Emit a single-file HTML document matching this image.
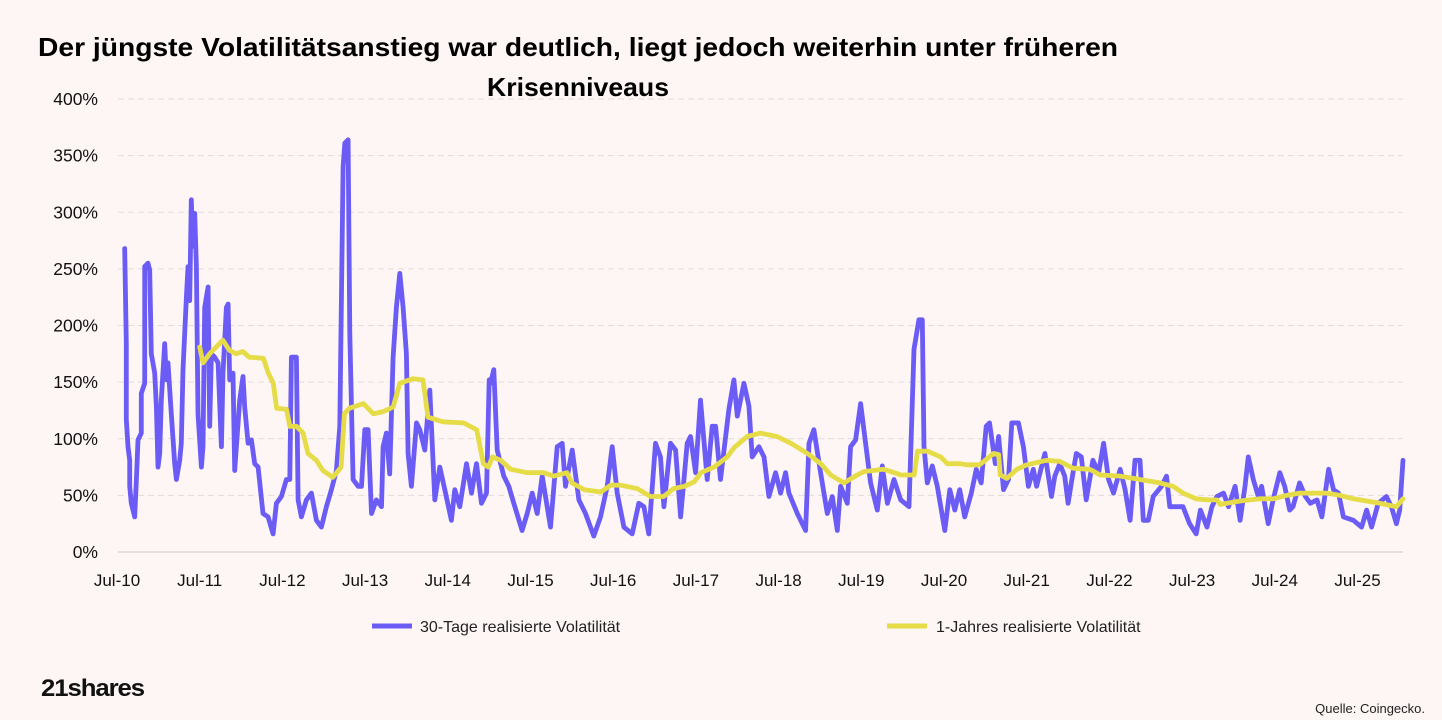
<!DOCTYPE html>
<html><head><meta charset="utf-8"><style>
html,body{margin:0;padding:0;background:#fdf6f4;}
svg{display:block;font-family:"Liberation Sans",sans-serif;}
</style></head><body>
<svg id="chart" width="1442" height="720" viewBox="0 0 1442 720">
<rect width="1442" height="720" fill="#fdf6f4"/>
<text x="578" y="56" text-anchor="middle" font-size="26" font-weight="bold" textLength="1080" lengthAdjust="spacingAndGlyphs" fill="#000">Der jüngste Volatilitätsanstieg war deutlich, liegt jedoch weiterhin unter früheren</text>
<text x="578" y="96" text-anchor="middle" font-size="26" font-weight="bold" textLength="182" lengthAdjust="spacingAndGlyphs" fill="#000">Krisenniveaus</text>
<g id="grid"></g>
<g id="yaxis"></g>
<g id="xaxis"></g>
<g id="series"></g>
<g>
<g>
<line x1="372" y1="626" x2="412" y2="626" stroke="#6b5cf5" stroke-width="5"/>
<text x="420" y="632" font-size="16" fill="#222">30-Tage realisierte Volatilität</text>
</g>
<g>
<line x1="887" y1="626" x2="927" y2="626" stroke="#e6dc48" stroke-width="5"/>
<text x="936" y="632" font-size="16" fill="#222">1-Jahres realisierte Volatilität</text>
</g>
</g>
<text x="41" y="696" font-size="24" font-weight="bold" letter-spacing="-1" textLength="103" lengthAdjust="spacingAndGlyphs" fill="#111">21shares</text>
<text x="1425" y="713" text-anchor="end" font-size="13" fill="#222">Quelle: Coingecko.</text>
</svg>
<script>
const yTicks = [0,50,100,150,200,250,300,350,400];
const xTickLabels = ["Jul-10","Jul-11","Jul-12","Jul-13","Jul-14","Jul-15","Jul-16","Jul-17","Jul-18","Jul-19","Jul-20","Jul-21","Jul-22","Jul-23","Jul-24","Jul-25"];
// t = years since Jul-2010
const vol30T = [0.093,0.113,0.113,0.133,0.153,0.153,0.173,0.214,0.234,0.254,0.294,0.294,0.335,0.335,0.375,0.395,0.415,0.456,0.476,0.496,0.516,0.536,0.577,0.597,0.617,0.657,0.698,0.718,0.758,0.778,0.798,0.839,0.859,0.879,0.899,0.919,0.940,0.960,0.980,1.020,1.040,1.060,1.101,1.121,1.141,1.181,1.222,1.262,1.282,1.323,1.343,1.363,1.403,1.423,1.444,1.484,1.524,1.544,1.585,1.625,1.665,1.706,1.766,1.827,1.887,1.927,1.988,2.048,2.089,2.109,2.169,2.190,2.230,2.290,2.351,2.411,2.472,2.532,2.593,2.653,2.694,2.734,2.754,2.794,2.815,2.855,2.915,2.956,2.996,3.036,3.077,3.137,3.198,3.218,3.258,3.298,3.339,3.379,3.419,3.460,3.500,3.520,3.560,3.621,3.661,3.722,3.782,3.843,3.903,3.964,4.044,4.085,4.145,4.226,4.286,4.347,4.407,4.468,4.5,
4.516,4.556,4.597,4.677,4.738,4.798,4.899,4.960,5.020,5.081,5.141,5.242,5.323,5.383,5.423,5.504,5.585,5.665,5.766,5.847,5.927,5.988,6.048,6.129,6.230,6.310,6.371,6.431,6.512,6.572,6.613,6.693,6.754,6.815,6.895,6.935,6.996,7.056,7.137,7.197,7.238,7.298,7.399,7.460,7.500,7.581,7.641,7.681,7.762,7.823,7.883,7.964,8.024,8.085,8.125,8.226,8.327,8.367,8.427,8.508,8.589,8.649,8.710,8.750,8.831,8.871,8.931,8.992,9.052,9.113,9.193,9.254,9.315,9.395,9.476,9.577,9.637,9.697,9.738,9.758,9.798,9.859,9.919,
10.01,10.07,10.13,10.19,10.25,10.33,10.39,10.45,10.51,10.55,10.62,10.66,10.72,10.78,10.82,10.90,10.96,11.02,11.08,11.12,11.22,11.30,11.34,11.40,11.46,11.50,11.56,11.60,11.66,11.72,11.80,11.87,11.93,11.99,12.05,12.13,12.19,12.25,12.31,12.37,12.41,12.47,12.53,12.63,12.69,12.73,12.81,12.89,12.97,13.05,13.10,13.18,13.24,13.30,13.38,13.44,13.52,13.58,13.64,13.68,13.74,13.80,13.84,13.92,13.98,14.06,14.12,14.18,14.22,14.30,14.37,14.43,14.51,14.57,14.65,14.71,14.77,14.83,14.95,15.05,15.11,15.17,15.25,15.35,15.41,15.47,15.51,15.55];
const vol30V = [268,184,117,93,81,58,43,31,64,99,105,140,149,252,255,249,175,158,128,75,87,134,184,152,167,122,78,64,81,96,161,225,252,222,311,270,299,252,122,75,93,216,234,111,175,172,167,93,158,216,219,152,158,72,93,134,155,128,96,99,78,75,34,31,16,43,49,64,64,172,172,46,31,46,52,28,22,40,55,72,111,340,361,364,193,64,58,58,108,108,34,46,40,93,105,69,172,216,246,216,175,87,58,114,108,90,143,46,75,55,28,55,40,78,52,78,43,52,152,
149,161,90,67,58,43,19,34,52,34,67,22,93,96,58,90,46,34,14,31,58,93,52,22,16,43,40,16,96,84,40,96,90,31,96,102,70,134,64,111,111,64,126,152,120,149,129,84,93,84,49,70,52,70,52,34,19,96,108,70,34,49,19,58,43,93,99,131,96,61,37,76,43,64,46,40,179,205,205,93,61,76,58,
19,55,37,55,31,52,73,61,111,114,78,102,55,64,114,114,93,58,73,58,87,49,67,78,67,43,70,87,84,46,81,70,96,64,52,73,55,28,81,81,28,28,49,58,67,40,40,40,25,16,37,22,40,49,52,40,58,28,58,84,64,49,58,25,46,70,58,37,40,61,49,43,46,31,73,55,52,31,28,22,37,22,43,49,40,25,37,81];
const vol1yT = [1.0,1.04,1.12,1.28,1.36,1.44,1.52,1.60,1.77,1.83,1.89,1.93,2.05,2.09,2.17,2.25,2.31,2.41,2.49,2.61,2.71,2.75,2.81,2.98,3.10,3.22,3.34,3.42,3.58,3.70,3.76,3.94,4.19,4.35,4.43,4.49,4.54,4.64,4.76,4.96,5.16,5.28,5.44,5.50,5.65,5.85,5.97,6.09,6.29,6.45,6.61,6.73,6.86,6.98,7.06,7.22,7.38,7.46,7.62,7.78,7.98,8.15,8.35,8.51,8.63,8.79,8.95,9.03,9.27,9.40,9.48,9.64,9.68,9.80,9.96,10.04,10.2,10.27,10.43,10.60,10.66,10.68,10.76,10.88,11.0,11.24,11.40,11.56,11.76,11.89,12.13,12.29,12.37,12.61,12.77,12.89,13.05,13.18,13.30,13.34,13.58,13.82,13.98,14.14,14.30,14.47,14.63,14.79,14.95,15.11,15.27,15.47,15.55];
const vol1yV = [181,167,175,187,178,175,177,172,171,158,149,127,126,111,111,105,87,81,72,66,75,122,127,131,122,124,128,149,153,152,119,115,114,108,78,75,84,81,73,70,70,67,70,61,55,53,59,59,56,49,49,56,58,62,70,75,84,92,102,105,102,96,87,78,68,61,68,71,73,70,68,68,89,89,84,78,78,77,77,87,86,68,65,73,77,81,80,74,73,68,67,65,64,61,58,52,47,46,46,42,45,47,47,50,52,52,52,50,47,45,43,40,47];

const NS="http://www.w3.org/2000/svg";
const X0=117, PX_PER_YEAR=82.7, Y0=552, PX_PER_PCT=453/400;
function xScale(t){return X0+t*PX_PER_YEAR;}
function yScale(v){return Y0-v*PX_PER_PCT;}
const grid=document.getElementById('grid'), yaxis=document.getElementById('yaxis'), xaxis=document.getElementById('xaxis'), series=document.getElementById('series');
yTicks.forEach(v=>{
  const l=document.createElementNS(NS,'line');
  
  
  l.setAttribute('x1',118);l.setAttribute('x2',1403);
  l.setAttribute('y1',yScale(v));l.setAttribute('y2',yScale(v));
  l.setAttribute('stroke', v===0?'#d4d0ce':'#e2dcda');
  l.setAttribute('stroke-width', v===0?1.3:1);
  if(v!==0) l.setAttribute('stroke-dasharray','6,4');
  grid.appendChild(l);
  const t=document.createElementNS(NS,'text');
  
  
  t.setAttribute('x',98);t.setAttribute('y',yScale(v)+6);
  t.setAttribute('text-anchor','end');t.setAttribute('font-size','17.5');t.setAttribute('fill','#111');
  t.textContent=v+'%';
  yaxis.appendChild(t);
});
xTickLabels.forEach((lab,i)=>{
  const t=document.createElementNS(NS,'text');
  
  
  t.setAttribute('x',xScale(i));t.setAttribute('y',586);
  t.setAttribute('text-anchor','middle');t.setAttribute('font-size','17');t.setAttribute('fill','#111');
  t.textContent=lab;
  xaxis.appendChild(t);
});
function drawLine(ts,vs,color,name){
  const p=document.createElementNS(NS,'path');
  
  
  p.setAttribute('d',ts.map((t,i)=>(i?'L':'M')+xScale(t).toFixed(1)+','+yScale(vs[i]).toFixed(1)).join(''));
  p.setAttribute('fill','none');p.setAttribute('stroke',color);p.setAttribute('stroke-width','4.8');
  p.setAttribute('stroke-linejoin','round');p.setAttribute('stroke-linecap','round');
  series.appendChild(p);
}
drawLine(vol30T,vol30V,'#6b5cf5','line-30d-volatility');
drawLine(vol1yT,vol1yV,'#e6dc48','line-1y-volatility');
</script>
</body></html>
